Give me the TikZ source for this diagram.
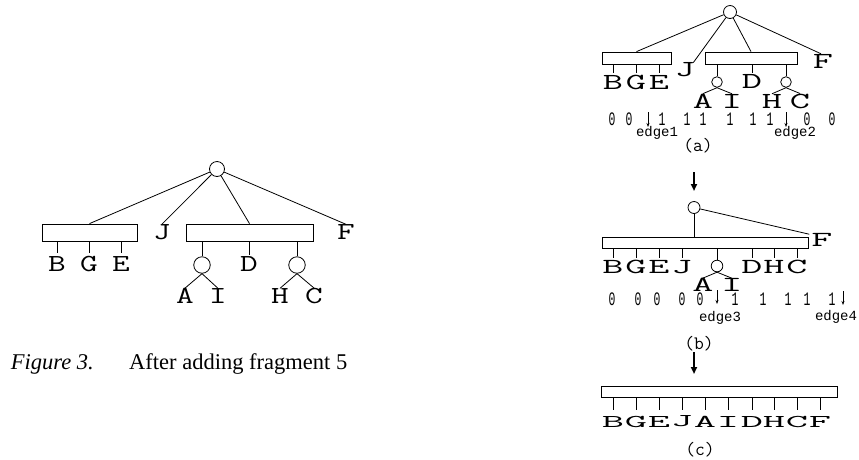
\documentclass[tikz,border=0pt]{standalone}
\usepackage{fontspec}
\usepackage{graphicx}
\usetikzlibrary{arrows.meta}
\newfontfamily\capfont{Liberation Serif}
\newfontfamily\monofont{Liberation Mono}
\newcommand{\gL}[1]{\scalebox{1.4}[1]{\fontsize{24.5}{24.5}\selectfont\ttfamily #1}}
\newcommand{\gA}[1]{\scalebox{1.7}[1]{\fontsize{23}{23}\selectfont\ttfamily #1}}
\newcommand{\gB}[1]{\scalebox{1.9}[1]{\fontsize{21.5}{21.5}\selectfont\ttfamily #1}}
\newcommand{\gC}[1]{\scalebox{2.4}[1]{\fontsize{18}{18}\selectfont\ttfamily #1}}
\newcommand{\dg}[1]{\scalebox{0.6}[1]{\fontsize{19}{19}\selectfont\monofont #1}}
\newcommand{\eg}[1]{{\fontsize{14}{14}\selectfont\monofont #1}}
\newcommand{\pl}[1]{{\fontsize{19}{19}\selectfont\ttfamily #1}}
\tikzset{
  bx/.style={draw, line width=0.8pt, inner sep=0},
  circ/.style={draw, circle, line width=0.8pt, inner sep=0},
  lt/.style={inner sep=0},
  ln/.style={line width=0.8pt},
  bigarr/.style={line width=1.8pt, -{Triangle[length=7pt,width=6pt]}},
  smarr/.style={line width=0.6pt, -{Stealth[length=4pt,width=3pt]}},
}
\begin{document}
\begin{tikzpicture}[x=1pt,y=-1pt]
\useasboundingbox (0,0) rectangle (859,459);
% ================= left tree =================
\node[circ, minimum size=15pt] (R) at (217,169) {};
\node[bx, minimum width=95pt, minimum height=17pt] (L1) at (89.5,232.5) {};
\node[bx, minimum width=127pt, minimum height=17pt] (L2) at (249.5,232.5) {};
\node[lt] (J) at (162,232) {\gL{J}};
\node[lt] (F) at (346,232) {\gL{F}};
\draw[ln] (R) -- (L1.north);
\draw[ln] (R) -- (J.north);
\draw[ln] (R) -- (L2.north);
\draw[ln] (R) -- (F.north);
\node[lt] (B) at (57,264) {\gL{B}};
\node[lt] (G) at (89,264) {\gL{G}};
\node[lt] (E) at (121,264) {\gL{E}};
\foreach \n in {B,G,E} \draw[ln] (\n |- L1.south) -- ([yshift=3pt]\n.north);
\node[circ, minimum size=16.5pt] (C1) at (202,265) {};
\node[lt] (D) at (249,264) {\gL{D}};
\node[circ, minimum size=16.5pt] (C2) at (297,265) {};
\draw[ln] (C1 |- L2.south) -- (C1.north);
\draw[ln] (D |- L2.south) -- ([yshift=1pt]D.north);
\draw[ln] (C2 |- L2.south) -- (C2.north);
\node[lt] (A) at (185,296) {\gL{A}};
\node[lt] (I) at (218,296) {\gL{I}};
\node[lt] (H) at (280,296) {\gL{H}};
\node[lt] (C) at (314,296) {\gL{C}};
\draw[ln] (C1.south) -- (A.north);
\draw[ln] (C1.south) -- (I.north);
\draw[ln] (C2.south) -- (H.north);
\draw[ln] (C2.south) -- (C.north);
% caption
\node[anchor=base east, inner sep=0, font=\capfont\itshape\fontsize{22.5}{22.5}\selectfont] (fig) at (94,369) {Figure 3.};
\node[anchor=base west, inner sep=0, font=\capfont\fontsize{22.5}{22.5}\selectfont] (cap) at (129,369) {After adding fragment 5};
% ================= (a) =================
\node[circ, minimum size=13pt] (Ra) at (730,12) {};
\node[bx, minimum width=69pt, minimum height=12pt] (a1) at (636.5,58) {};
\node[bx, minimum width=92pt, minimum height=12pt] (a2) at (751,58) {};
\node[lt] (Ja) at (685,70) {\gA{J}};
\node[lt] (Fa) at (823,61) {\gA{F}};
\draw[ln] (Ra) -- (a1.north);
\draw[ln] (Ra) -- ([xshift=-2pt]Ja.north east);
\draw[ln] (Ra) -- (a2.north);
\draw[ln] (Ra) -- ([xshift=-2pt]Fa.north);
\node[lt] (Ba) at (613,82) {\gA{B}};
\node[lt] (Ga) at (636,82) {\gA{G}};
\node[lt] (Ea) at (659,82) {\gA{E}};
\foreach \n in {Ba,Ga,Ea} \draw[ln] (\n |- a1.south) -- ([yshift=2pt]\n.north);
\node[circ, minimum size=10.6pt] (Ca1) at (717,82) {};
\node[lt] (Da) at (752,81) {\gA{D}};
\node[circ, minimum size=10.6pt] (Ca2) at (786,82) {};
\draw[ln] (Ca1 |- a2.south) -- (Ca1.north);
\draw[ln] (Da |- a2.south) -- ([yshift=1pt]Da.north);
\draw[ln] (Ca2 |- a2.south) -- (Ca2.north);
\node[lt] (Aa) at (703,101) {\gA{A}};
\node[lt] (Ia) at (732,101) {\gA{I}};
\node[lt] (Ha) at (772,101) {\gA{H}};
\node[lt] (Cca) at (800,101) {\gA{C}};
\draw[ln] (Ca1.south) -- (Aa.north);
\draw[ln] (Ca1.south) -- (Ia.north);
\draw[ln] (Ca2.south) -- (Ha.north);
\draw[ln] (Ca2.south) -- (Cca.north);
\foreach \x/\v [count=\i] in {612/0,629/0,662/1,687/1,703/1,730/1,753/1,770/1,807/0,832/0}
  \node[lt] (na\i) at (\x,119) {\dg{\v}};
\coordinate (e1t) at (648,112); \coordinate (e1b) at (648,127);
\coordinate (e2t) at (786,112); \coordinate (e2b) at (786,127);
\draw[smarr] (e1t) -- (e1b);
\draw[smarr] (e2t) -- (e2b);
\node[lt] (edge1) at (657,133) {\eg{edge1}};
\node[lt] (edge2) at (795,133) {\eg{edge2}};
\node[lt] (la) at (698,146) {\pl{(a)}};
\coordinate (ab1) at (694,172); \coordinate (ab2) at (694,191);
\draw[bigarr] (ab1) -- (ab2);
% ================= (b) =================
\node[circ, minimum size=12pt] (Rb) at (694,207.5) {};
\node[bx, minimum width=206pt, minimum height=11pt] (b1) at (705,242.5) {};
\node[lt] (Fb) at (822,240) {\gB{F}};
\draw[ln] (Rb) -- (Rb |- b1.north);
\draw[ln] (Rb) -- ([xshift=-2pt,yshift=-1pt]Fb.north west);
\foreach \x/\l [count=\i] in {613/B,636/G,659/E,682/J,752/D,774/H,797/C}{
  \node[lt] (lb\i) at (\x,267) {\gB{\l}};
  \draw[ln] (lb\i |- b1.south) -- ([yshift=2pt]lb\i.north);
}
\node[circ, minimum size=11.6pt] (Cb) at (717,266) {};
\draw[ln] (Cb |- b1.south) -- (Cb.north);
\node[lt] (Ab) at (703,285) {\gB{A}};
\node[lt] (Ib) at (732,285) {\gB{I}};
\draw[ln] (Cb.south) -- (Ab.north);
\draw[ln] (Cb.south) -- (Ib.north);
\foreach \x/\v [count=\i] in {612/0,638/0,657/0,682/0,700/0,735/1,763/1,788/1,807/1,832/1}
  \node[lt] (nb\i) at (\x,299) {\dg{\v}};
\coordinate (e3t) at (717,290); \coordinate (e3b) at (717,304);
\coordinate (e4t) at (843,291); \coordinate (e4b) at (843,305);
\draw[smarr] (e3t) -- (e3b);
\draw[smarr] (e4t) -- (e4b);
\node[lt] (edge3) at (720,318) {\eg{edge3}};
\node[lt] (edge4) at (836,317) {\eg{edge4}};
\node[lt] (lbb) at (699,344) {\pl{(b)}};
\coordinate (bb1) at (694,352); \coordinate (bb2) at (694,374);
\draw[bigarr] (bb1) -- (bb2);
% ================= (c) =================
\node[bx, minimum width=235.5pt, minimum height=11pt] (c1) at (719.5,391.5) {};
\foreach \x/\l [count=\i] in {613/B,636/G,659/E,682/J,705/A,728/I,752/D,774/H,797/C,820/F}{
  \node[lt] (lc\i) at (\x,421.5) {\gC{\l}};
  \draw[ln] (lc\i |- c1.south) -- ([yshift=6pt]lc\i.north);
}
\node[lt] (lcc) at (700,450) {\pl{(c)}};
\end{tikzpicture}
\end{document}
